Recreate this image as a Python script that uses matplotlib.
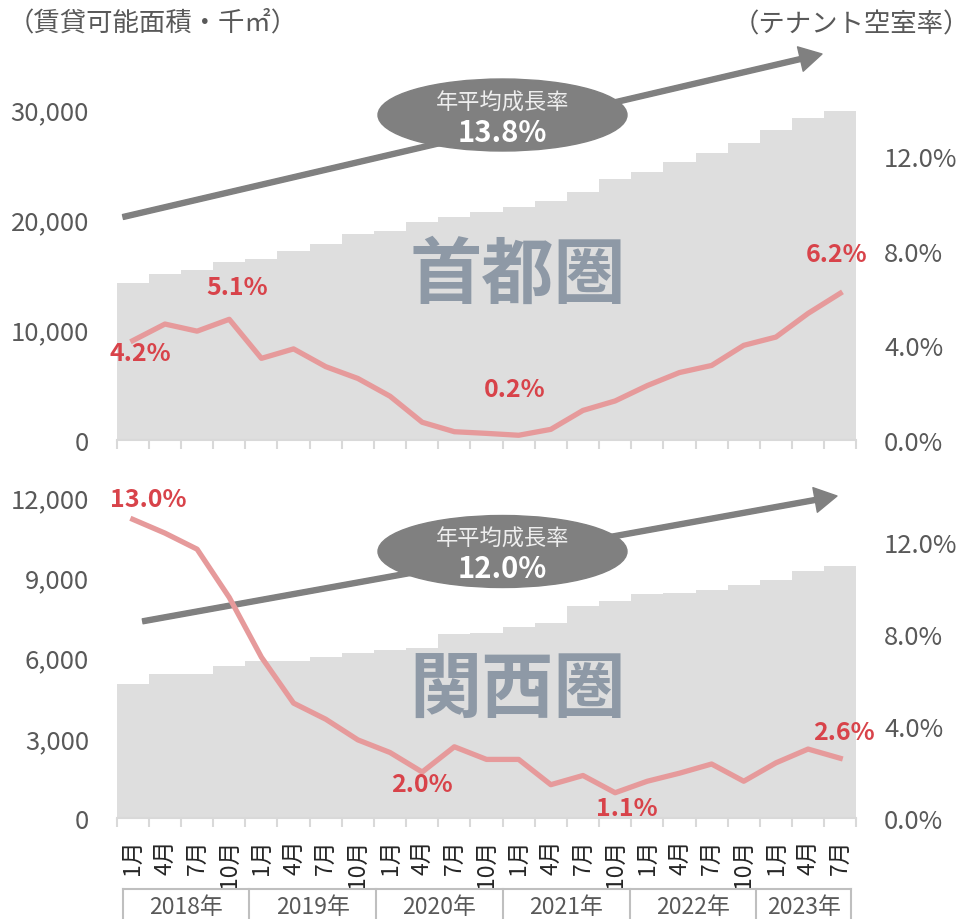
import numpy as np
import matplotlib
matplotlib.use("Agg")
import matplotlib.pyplot as plt
from matplotlib.patches import Ellipse, FancyArrowPatch, ArrowStyle

plt.rcParams['font.family'] = ['Noto Sans CJK JP', 'DejaVu Sans']

# --- data ---
months = ['1月', '4月', '7月', '10月'] * 5 + ['1月', '4月', '7月']
year_labels = ['2018年', '2019年', '2020年', '2021年', '2022年', '2023年']
year_counts = [4, 4, 4, 4, 4, 3]

shuto_area = [14250, 15030, 15450, 16150, 16450, 17150, 17730, 18700, 18970, 19790,
              20180, 20700, 21150, 21660, 22500, 23700, 24330, 25240, 26060, 26900,
              28120, 29200, 29790]
shuto_vac = [4.2, 4.9, 4.6, 5.1, 3.45, 3.85, 3.1, 2.6, 1.85, 0.75, 0.35, 0.28, 0.2,
             0.45, 1.25, 1.65, 2.3, 2.85, 3.15, 4.0, 4.35, 5.35, 6.2]
shuto_cagr = 13.8
shuto_marks = [0, 3, 12, 22]

kansai_area = [5010, 5380, 5400, 5670, 5860, 5870, 6030, 6170, 6270, 6370,
               6890, 6925, 7140, 7300, 7915, 8130, 8380, 8420, 8540, 8730,
               8920, 9230, 9420]
kansai_vac = [13.0, 12.4, 11.7, 9.6, 7.0, 5.0, 4.3, 3.4, 2.85, 2.0, 3.1, 2.55, 2.55,
              1.45, 1.85, 1.1, 1.6, 1.95, 2.35, 1.6, 2.4, 3.0, 2.6]
kansai_cagr = 12.0
kansai_marks = [0, 9, 15, 22]

W, H = 973, 920
AREA = '#dedede'
PINK = '#e69a9b'
RED = '#d8434a'
GREY_TXT = '#595959'
WATER = '#8e99a6'
DARK = '#808080'
AXLINE = '#d9d9d9'


def fpx(x, y):
    # pixel (top-left origin) -> figure fraction
    return x / W, 1 - y / H


fig = plt.figure(figsize=(W / 100, H / 100), dpi=100)


def panel(rect, area, vac, cagr, marks, offsets, lticks, lmax, rmax, name,
          name_xy, arrow, ell_xy, show_months):
    ax = fig.add_axes(rect)
    x = np.arange(len(area))
    ax.bar(x, area, width=1.0, color=AREA, zorder=1)
    ax.set_xlim(-0.5, len(area) - 0.5)
    ax.set_ylim(0, lmax)
    ax.set_yticks(lticks)
    ax.set_yticklabels([f'{v:,.0f}' for v in lticks])
    ax.tick_params(axis='y', length=0, pad=20, labelsize=18.5, labelcolor=GREY_TXT)
    for s in ['top', 'left', 'right']:
        ax.spines[s].set_visible(False)
    ax.spines['bottom'].set_color(AXLINE)
    ax.spines['bottom'].set_linewidth(1.5)
    ax.set_xticks(np.arange(len(area) + 1) - 0.5)
    ax.tick_params(axis='x', which='major', length=6.5, width=1.5, color=AXLINE,
                   labelbottom=False)
    if show_months:
        ax.set_xticks(x, minor=True)
        ax.set_xticklabels(months, minor=True, rotation=90, va='top', ha='center')
        ax.tick_params(axis='x', which='minor', length=0, pad=15, labelsize=16.5,
                       labelcolor='#262626')

    # watermark name
    ax.text(*fpx(*name_xy), name, transform=fig.transFigure, ha='center', va='center',
            fontsize=52, fontweight='bold', color=WATER, zorder=2)

    # growth arrow + ellipse
    st = ArrowStyle('Simple', head_length=16, head_width=18, tail_width=3.6)
    arr = FancyArrowPatch(fpx(*arrow[0]), fpx(*arrow[1]), transform=fig.transFigure,
                          arrowstyle=st, mutation_scale=1, shrinkA=0, shrinkB=0,
                          color=DARK, zorder=3)
    ax.add_patch(arr)
    arr.set_clip_on(False)
    ex, ey = fpx(*ell_xy)
    ell = Ellipse((ex, ey), 249 / W, 72 / H, transform=fig.transFigure,
                  color=DARK, zorder=4)
    ax.add_patch(ell)
    ell.set_clip_on(False)
    ax.text(ex, ey + 13 / H, '年平均成長率', transform=fig.transFigure, ha='center',
            va='center', fontsize=16, color='#eeeeee', zorder=5)
    ax.text(ex, ey - 17 / H, f'{cagr:.1f}%', transform=fig.transFigure, ha='center',
            va='center', fontsize=21, fontweight='bold', color='white', zorder=5)

    ax2 = ax.twinx()
    ax2.plot(x, vac, color=PINK, lw=3.8, solid_joinstyle='round', zorder=3)
    ax2.set_ylim(0, rmax)
    rt = [0, 4, 8, 12]
    ax2.set_yticks(rt)
    ax2.set_yticklabels([f'{v:.1f}%' for v in rt])
    ax2.tick_params(axis='y', length=0, pad=20, labelsize=18.5, labelcolor=GREY_TXT)
    for s in ax2.spines.values():
        s.set_visible(False)
    for i, off in zip(marks, offsets):
        ax2.annotate(f'{vac[i]:.1f}%', (x[i], vac[i]), xytext=off,
                     textcoords='offset pixels', ha='center', va='center',
                     fontsize=18, fontweight='bold', color=RED, zorder=6)
    return ax


left = 116.7 / W
width = (856.3 - 116.7) / W

panel([left, 1 - 441 / H, width, 385 / H], shuto_area, shuto_vac, shuto_cagr,
      shuto_marks, [(8, -12), (8, 32), (-4, 46), (-4, 39)],
      [0, 10000, 20000, 30000], 34900, 16.27, '首都圏', (518, 277),
      [(123, 218), (822, 55)], (502.5, 116), False)

panel([left, 1 - 819 / H, width, 349 / H], kansai_area, kansai_vac, kansai_cagr,
      kansai_marks, [(15, 20), (0, -12), (12, -15), (4, 26)],
      [0, 3000, 6000, 9000, 12000], 13060, 15.19, '関西圏', (518, 692),
      [(142.7, 622.3), (837, 497)], (502.5, 552.5), True)

# year group row under the month labels
axy = fig.add_axes([122.7 / W, 0, 728.6 / W, 30 / H])
axy.set_xlim(-0.5, len(months) - 0.5)
axy.set_ylim(0, 1)
axy.axis('off')
edges = np.concatenate([[0], np.cumsum(year_counts)]) - 0.5
axy.plot([edges[0], edges[-1]], [1, 1], color='#bfbfbf', lw=1.5, clip_on=False)
for e in edges:
    axy.plot([e, e], [0, 1], color='#bfbfbf', lw=1.5, clip_on=False)
for lab, a, b in zip(year_labels, edges[:-1], edges[1:]):
    axy.text((a + b) / 2, 0.42, lab, ha='center', va='center', fontsize=16.5,
             color=GREY_TXT)

# axis titles
fig.text(*fpx(8, 23), '（賃貸可能面積・千㎡）', ha='left', va='center',
         fontsize=19, color=GREY_TXT)
fig.text(*fpx(970, 25), '（テナント空室率）', ha='right', va='center',
         fontsize=19, color=GREY_TXT)

fig.savefig('out.png', dpi=100)
